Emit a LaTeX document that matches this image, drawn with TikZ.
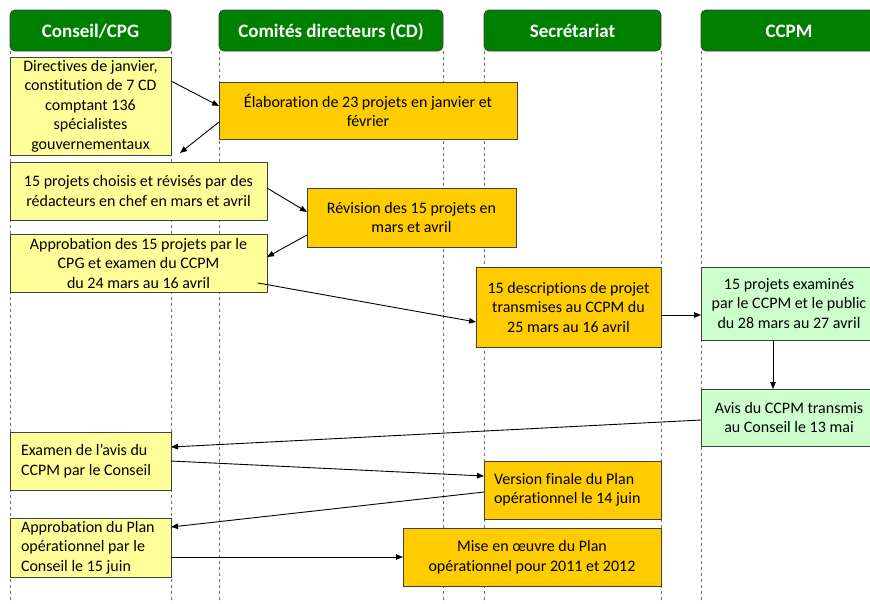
\documentclass[tikz,border=0pt]{standalone}
\usepackage{fontspec}
\setmainfont{Carlito}[Ligatures={NoCommon}]
\usetikzlibrary{arrows.meta,calc}
\definecolor{hdrgreen}{HTML}{008000}
\definecolor{boxyellow}{HTML}{FFFF99}
\definecolor{boxorange}{HTML}{FFCC00}
\definecolor{boxgreen}{HTML}{CCFFCC}
\definecolor{bordergray}{HTML}{404040}
\definecolor{lifegray}{HTML}{707070}
\begin{document}
\begin{tikzpicture}[x=1pt,y=-1pt,
  font=\fontsize{16}{19.5}\selectfont,
  every node/.style={inner sep=0pt, outer sep=0pt},
  header/.style={draw=bordergray, line width=0.8pt, fill=hdrgreen, rounded corners=5pt,
    text=white, font=\fontsize{19}{22}\selectfont\bfseries, anchor=north west,
    minimum height=41pt, text height=15pt, text depth=2pt},
  basebox/.style={draw=bordergray, line width=0.8pt, anchor=north west, align=center},
  ybox/.style={basebox, fill=boxyellow},
  obox/.style={basebox, fill=boxorange},
  gbox/.style={basebox, fill=boxgreen},
  lifeline/.style={draw=lifegray, line width=0.8pt, dash pattern=on 3pt off 3pt},
  flow/.style={draw=black, line width=0.9pt, -{Triangle[length=7pt,width=5.5pt]}}
]
\useasboundingbox (0,0) rectangle (870,603);
\clip (0,0) rectangle (870,603);
\fill[white] (0,0) rectangle (870,603);

% lifelines
\foreach \lx in {10,171,219,443,484,661,701}
  \draw[lifeline] (\lx,51) -- (\lx,603);

% headers
\node[header, minimum width=161pt] (h1) at (10,10) {Conseil/CPG};
\node[header, minimum width=224pt] (h2) at (219,10) {Comités directeurs (CD)};
\node[header, minimum width=177pt] (h3) at (484,10) {Secrétariat};
\node[header, minimum width=176pt] (h4) at (701,10) {CCPM};

% boxes
\node[ybox, minimum width=161pt, minimum height=98pt] (dir) at (10,57)
  {Directives de janvier,\\constitution de 7 CD\\comptant 136\\spécialistes\\gouvernementaux};
\node[obox, minimum width=298pt, minimum height=57pt] (elab) at (219,82)
  {Élaboration de 23 projets en janvier et\\février};
\node[ybox, minimum width=257pt, minimum height=58pt] (choix) at (10,162)
  {15 projets choisis et révisés par des\\rédacteurs en chef en mars et avril};
\node[obox, minimum width=209pt, minimum height=59pt] (rev) at (307,188)
  {Révision des 15 projets en\\mars et avril};
\node[ybox, minimum width=257pt, minimum height=58pt] (appr) at (10,234)
  {Approbation des 15 projets par le\\CPG et examen du CCPM\\du 24 mars au 16 avril};
\node[obox, minimum width=185pt, minimum height=80pt] (desc) at (476,267)
  {15 descriptions de projet\\transmises au CCPM du\\25 mars au 16 avril};
\node[gbox, minimum width=176pt, minimum height=73pt] (exam) at (701,267)
  {15 projets examinés\\par le CCPM et le public\\du 28 mars au 27 avril};
\node[gbox, minimum width=176pt, minimum height=57pt] (avis) at (701,389)
  {Avis du CCPM transmis\\au Conseil le 13 mai};
\node[ybox, align=flush left, text width=139pt, inner xsep=11pt, minimum height=58pt] (examen) at (10,432)
  {Examen de l’avis du\\CCPM par le Conseil};
\node[obox, align=flush left, text width=157pt, inner xsep=10pt, minimum height=58pt] (version) at (484,461)
  {Version finale du Plan\\opérationnel le 14 juin};
\node[ybox, align=flush left, text width=139pt, inner xsep=11pt, minimum height=59pt] (approb) at (10,518)
  {Approbation du Plan\\opérationnel par le\\Conseil le 15 juin};
\node[obox, minimum width=258pt, minimum height=58pt] (mise) at (403,528)
  {Mise en œuvre du Plan\\opérationnel pour 2011 et 2012};

% connectors
\draw[flow] (dir.east |- 0,81) -- (elab.west |- 0,106);
\draw[flow] (elab.west |- 0,122) -- ($(dir.south east)+(9,-2)$);
\draw[flow] (choix.east |- 0,188) -- (rev.west |- 0,212);
\draw[flow] (rev.west |- 0,235) -- (appr.east |- 0,257);
\draw[flow] ($(appr.east |- 0,283)+(-9,0)$) -- (desc.west |- 0,322);
\draw[flow] (desc.east |- 0,315) -- (exam.west |- 0,315);
\draw[flow] (exam.south -| 773,0) -- (avis.north -| 773,0);
\draw[flow] (avis.west |- 0,420) -- (examen.east |- 0,447);
\draw[flow] (examen.east |- 0,461) -- (version.west |- 0,476);
\draw[flow] (version.west |- 0,492) -- (approb.east |- 0,527);
\draw[flow] (approb.east |- 0,557) -- (mise.west |- 0,557);
\end{tikzpicture}
\end{document}
